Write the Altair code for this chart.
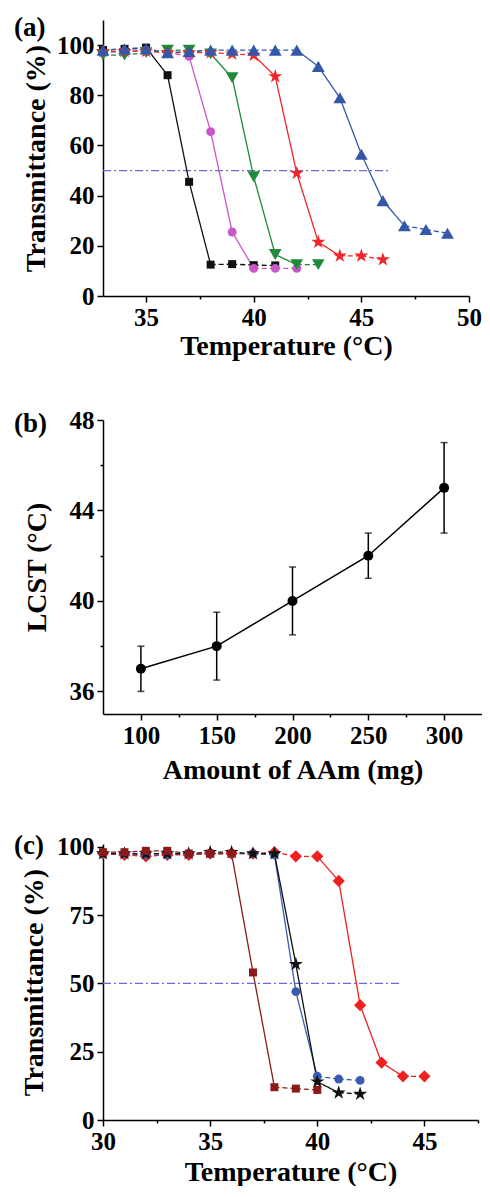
import altair as alt
import pandas as pd

# ---------------- data ----------------
# Panel (a): transmittance vs temperature
a_black_x = [33, 34, 35, 36, 37, 38, 39, 40, 41]
a_black_y = [98, 98.5, 99, 88, 45.5, 12.5, 12.7, 12.3, 12.2]
a_mag_x = [33, 34, 35, 36, 37, 38, 39, 40, 41, 42]
a_mag_y = [97, 97.5, 98, 97, 95.5, 65.5, 25.5, 11, 11, 11]
a_green_x = [33, 34, 35, 36, 37, 38, 39, 40, 41, 42, 43]
a_green_y = [96, 96, 97, 98, 98, 96.5, 87, 47.5, 16.5, 12.5, 12.5]
a_red_x = [33, 34, 35, 36, 37, 38, 39, 40, 41, 42, 43, 44, 45, 46]
a_red_y = [97.5, 97.5, 97.5, 97, 97, 97, 96.5, 96, 87.5, 49, 21.5, 16, 16, 14.5]
a_blue_x = [33, 34, 35, 36, 37, 38, 39, 40, 41, 42, 43, 44, 45, 46, 47, 48, 49]
a_blue_y = [98, 98.5, 98.5, 97, 97.5, 98, 98, 98, 98, 98, 91.5, 79, 56.5, 38, 28, 26.5, 25]
a_ref_x = [33, 46.3]
a_ref_y = [50]

# Panel (b): LCST vs amount of AAm
b_amount = [100, 150, 200, 250, 300]
b_lcst = [37, 38, 40, 42, 45]
b_lo = [36, 36.5, 38.5, 41, 43]
b_hi = [38, 39.5, 41.5, 43, 47]

# Panel (c)
c_red_x = [30, 31, 32, 33, 34, 35, 36, 37, 38, 39, 40, 41, 42, 43, 44, 45]
c_red_y = [97.5, 97, 96.5, 97, 97, 97.5, 97.5, 97.5, 98, 96.5, 96.5, 87.5, 42, 21, 16, 16]
c_blue_x = [30, 31, 32, 33, 34, 35, 36, 37, 38, 39, 40, 41, 42]
c_blue_y = [97.5, 97.5, 97, 97, 97.5, 97.5, 97.5, 97.5, 97, 47, 16, 15, 14.5]
c_star_x = [30, 31, 32, 33, 34, 35, 36, 37, 38, 39, 40, 41, 42]
c_star_y = [97.5, 97.5, 97.5, 97.5, 97.5, 98, 98, 97.5, 97.5, 57, 14, 10, 9.5]
c_dred_x = [30, 31, 32, 33, 34, 35, 36, 37, 38, 39, 40]
c_dred_y = [98, 98, 98.5, 98.5, 97.5, 97.5, 97.5, 54, 12, 11.5, 11]
c_ref_x = [30, 43.9]
c_ref_y = [50]

panel_labels = ["(a)", "(b)", "(c)"]

# ---------------- styling ----------------
FONT = "Liberation Serif"
STAR = "M0,-1L0.2245,-0.309L0.951,-0.309L0.363,0.118L0.588,0.809L0,0.382L-0.588,0.809L-0.363,0.118L-0.951,-0.309L-0.2245,-0.309Z"


def seg_frame(name, xs, ys):
    rows = []
    for i in range(len(xs) - 1):
        style = "solid" if abs(ys[i + 1] - ys[i]) > 3 else "dash"
        sid = f"{name}-{i}"
        rows.append({"seg": sid, "style": style, "x": xs[i], "y": ys[i], "o": 0})
        rows.append({"seg": sid, "style": style, "x": xs[i + 1], "y": ys[i + 1], "o": 1})
    return pd.DataFrame(rows)


def ticksize_cond(test):
    return {"condition": {"test": test, "value": 6}, "value": 3}


def label_text(txt, dx, dy):
    return alt.Chart(pd.DataFrame({"t": [txt]})).mark_text(
        font=FONT, fontWeight="bold", fontSize=27, align="left", baseline="middle", color="black"
    ).encode(x=alt.value(dx), y=alt.value(dy), text="t:N")


def transmittance_panel(series, xdom, xvals, xmajor, ydom, yvals, ymajor,
                        ref_x, ref_y, w, h, lab, lab_dx, lab_dy, ytitle_pad, xtitle_pad):
    xscale = alt.Scale(domain=xdom, nice=False, zero=False)
    yscale = alt.Scale(domain=ydom, nice=False, zero=False)
    xaxis = alt.Axis(values=xvals, labelExpr=f"indexof({xmajor}, datum.value) >= 0 ? datum.label : ''",
                     tickSize=ticksize_cond(f"indexof({xmajor}, datum.value) >= 0"),
                     title="Temperature (°C)", titlePadding=xtitle_pad)
    yaxis = alt.Axis(values=yvals, labelExpr=f"indexof({ymajor}, datum.value) >= 0 ? datum.label : ''",
                     tickSize=ticksize_cond(f"indexof({ymajor}, datum.value) >= 0"),
                     title="Transmittance (%)", titlePadding=ytitle_pad)
    ref = alt.Chart(pd.DataFrame({"x": [ref_x[0]], "x2": [ref_x[1]], "y": ref_y})).mark_rule(
        color="#6b6bd6", strokeWidth=1.2, strokeDash=[8, 3, 2, 3]
    ).encode(x=alt.X("x:Q", scale=xscale, axis=xaxis), x2="x2:Q",
             y=alt.Y("y:Q", scale=yscale, axis=yaxis))
    layers = [ref]
    dash = alt.StrokeDash("style:N", scale=alt.Scale(domain=["dash", "solid"], range=[[5, 3], [1, 0]]),
                          legend=None)
    for name, xs, ys, col, shape, size in series:
        layers.append(alt.Chart(seg_frame(name, xs, ys)).mark_line(strokeWidth=1.3, color=col).encode(
            x="x:Q", y="y:Q", detail="seg:N", order="o:Q", strokeDash=dash))
    for name, xs, ys, col, shape, size in series:
        layers.append(alt.Chart(pd.DataFrame({"x": xs, "y": ys})).mark_point(
            filled=True, opacity=1, color=col, shape=shape, size=size, strokeWidth=0).encode(
            x="x:Q", y="y:Q"))
    layers.append(label_text(lab, lab_dx, lab_dy))
    return alt.layer(*layers).properties(width=w, height=h)


# ---------------- panel (a) ----------------
a_series = [
    ("S1", a_black_x, a_black_y, "#111111", "square", 64),
    ("S2", a_mag_x, a_mag_y, "#c957c9", "circle", 80),
    ("S3", a_green_x, a_green_y, "#1f8a3a", "triangle-down", 160),
    ("S4", a_red_x, a_red_y, "#f0262a", STAR, 220),
    ("S5", a_blue_x, a_blue_y, "#3557a8", "triangle-up", 165),
]
panel_a = transmittance_panel(
    a_series,
    xdom=[33, 50], xvals=[35, 37.5, 40, 42.5, 45, 47.5, 50], xmajor="[35, 40, 45, 50]",
    ydom=[0, 110], yvals=[0, 20, 40, 60, 80, 100], ymajor="[0, 20, 40, 60, 80, 100]",
    ref_x=a_ref_x, ref_y=a_ref_y, w=366, h=276,
    lab=panel_labels[0], lab_dx=-89, lab_dy=8, ytitle_pad=6, xtitle_pad=2,
)

# ---------------- panel (b) ----------------
bdf = pd.DataFrame({"amount": b_amount, "lcst": b_lcst, "lo": b_lo, "hi": b_hi})
bx = alt.Scale(domain=[75, 325], nice=False, zero=False)
by = alt.Scale(domain=[35, 48], nice=False, zero=False)
b_xaxis = alt.Axis(values=[100, 125, 150, 175, 200, 225, 250, 275, 300],
                   labelExpr="datum.value % 50 === 0 ? datum.label : ''",
                   tickSize=ticksize_cond("datum.value % 50 === 0"),
                   title="Amount of AAm (mg)", titlePadding=8)
b_yaxis = alt.Axis(values=[36, 38, 40, 42, 44, 46, 48],
                   labelExpr="datum.value % 4 === 0 ? datum.label : ''",
                   tickSize=ticksize_cond("datum.value % 4 === 0"),
                   title="LCST (°C)", titlePadding=18)
b_base = alt.Chart(bdf)
b_line = b_base.mark_line(color="black", strokeWidth=1.5).encode(
    x=alt.X("amount:Q", scale=bx, axis=b_xaxis), y=alt.Y("lcst:Q", scale=by, axis=b_yaxis))
b_err = b_base.mark_rule(color="black", strokeWidth=1.5).encode(x="amount:Q", y="lo:Q", y2="hi:Q")
b_cap_lo = b_base.mark_tick(color="black", thickness=1.5, size=7, orient="horizontal").encode(x="amount:Q", y="lo:Q")
b_cap_hi = b_base.mark_tick(color="black", thickness=1.5, size=7, orient="horizontal").encode(x="amount:Q", y="hi:Q")
b_pts = b_base.mark_point(filled=True, opacity=1, color="black", shape="circle", size=100).encode(
    x="amount:Q", y="lcst:Q")
panel_b = alt.layer(b_line, b_err, b_cap_lo, b_cap_hi, b_pts,
                    label_text(panel_labels[1], -89, 4)).properties(width=379, height=294)

# ---------------- panel (c) ----------------
c_series = [
    ("D1", c_red_x, c_red_y, "#ee2020", "diamond", 150),
    ("D2", c_blue_x, c_blue_y, "#3a5cae", "circle", 78),
    ("D3", c_star_x, c_star_y, "#111111", STAR, 220),
    ("D4", c_dred_x, c_dred_y, "#8b1a1a", "square", 64),
]
panel_c = transmittance_panel(
    c_series,
    xdom=[30, 47.5], xvals=[30, 32.5, 35, 37.5, 40, 42.5, 45, 47.5], xmajor="[30, 35, 40, 45]",
    ydom=[0, 101], yvals=[0, 12.5, 25, 37.5, 50, 62.5, 75, 87.5, 100], ymajor="[0, 25, 50, 75, 100]",
    ref_x=c_ref_x, ref_y=c_ref_y, w=375, h=276,
    lab=panel_labels[2], lab_dx=-89, lab_dy=2, ytitle_pad=8, xtitle_pad=4,
)

chart = alt.vconcat(panel_a, panel_b, panel_c, spacing=48).resolve_scale(
    strokeDash="independent"
).properties(
    padding={"left": 6, "top": 6, "right": 0, "bottom": 0}
).configure_view(stroke=None).configure_axis(
    grid=False,
    domainColor="black", domainWidth=1.5,
    tickColor="black", tickWidth=1.5,
    labelFont=FONT, labelFontWeight="bold", labelFontSize=25, labelColor="black", labelPadding=3,
    titleFont=FONT, titleFontWeight="bold", titleFontSize=28, titleColor="black",
).configure_axisX(labelFlush=False).configure_axisY(labelFlush=False)

chart.save("out.html", embed_options={"renderer": "svg", "actions": False})
